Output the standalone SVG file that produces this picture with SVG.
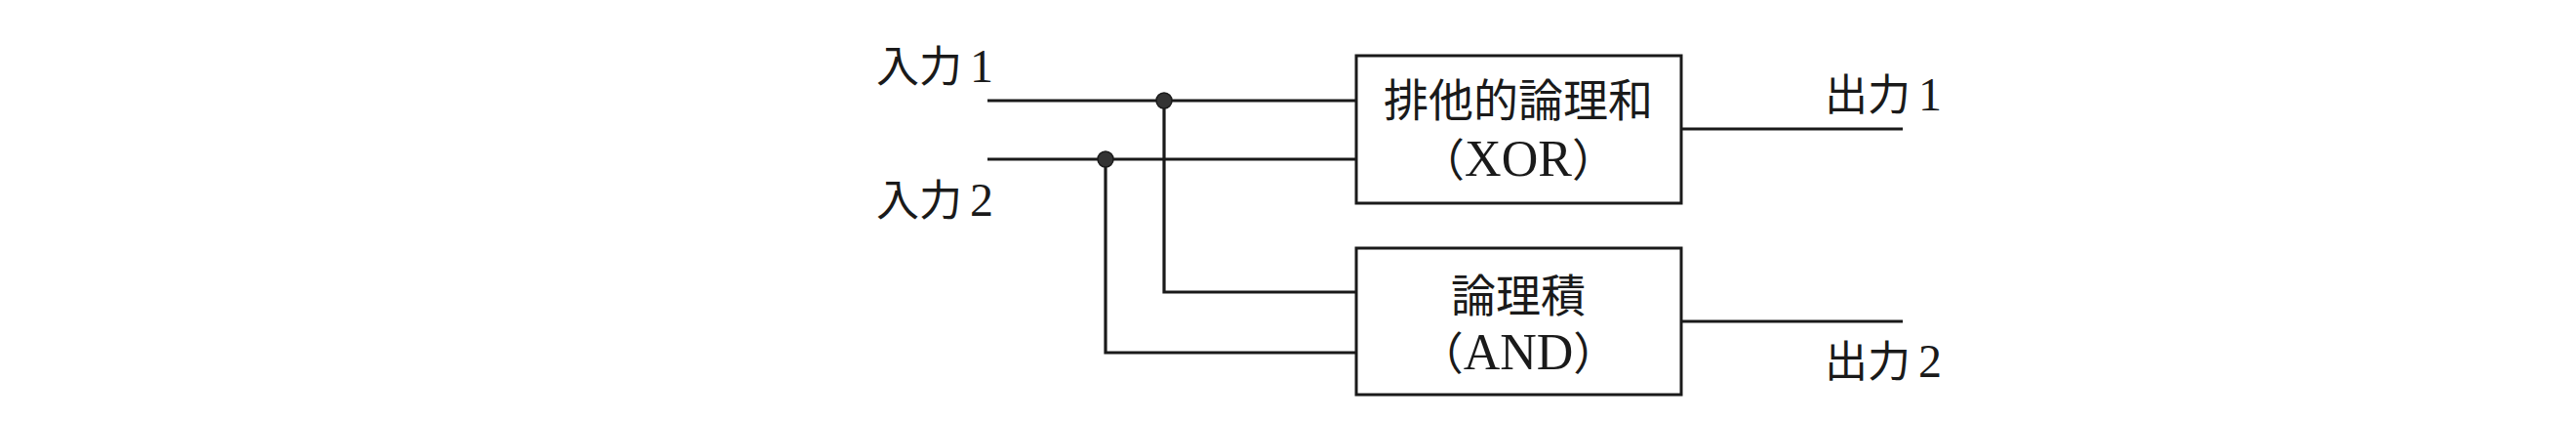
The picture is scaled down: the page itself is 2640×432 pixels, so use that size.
<svg xmlns="http://www.w3.org/2000/svg" width="2640" height="432" viewBox="0 0 2640 432">
<style>
.t{font-family:"Liberation Serif","Noto Sans CJK JP",serif;fill:#1a1a1a;}
.lbl{font-size:44px;}
.d{font-size:48px;}
.box{fill:#fff;stroke:#1a1a1a;stroke-width:3;}
.bt{font-size:46px;text-anchor:middle;}
.lt{font-size:52px;}
.w{fill:none;stroke:#1a1a1a;stroke-width:3.2;}
.dot{fill:#333;stroke:#1a1a1a;stroke-width:1.5;}
</style>
<rect width="2640" height="432" fill="#fff"/>
<g id="connectors">
<path class="w" d="M1012 103 H1390"/>
<path class="w" d="M1012 163 H1390"/>
<path class="w" d="M1193 103 V299 H1390"/>
<path class="w" d="M1133 163 V361 H1390"/>
<path class="w" d="M1723 132 H1950"/>
<path class="w" d="M1723 329 H1950"/>
<circle class="dot" cx="1193" cy="103" r="8"/>
<circle class="dot" cx="1133" cy="163" r="8"/>
</g>
<g id="input1"><text class="t lbl" x="898" y="84">入力<tspan class="d" dx="8">1</tspan></text></g>
<g id="input2"><text class="t lbl" x="898" y="221">入力<tspan class="d" dx="8">2</tspan></text></g>
<g id="xor">
<rect class="box" x="1390" y="57" width="333" height="151"/>
<text class="t bt" x="1556" y="119">排他的論理和</text>
<text class="t bt" x="1556" y="180">（<tspan class="lt">XOR</tspan>）</text>
</g>
<g id="and">
<rect class="box" x="1390" y="254" width="333" height="150"/>
<text class="t bt" x="1556" y="319">論理積</text>
<text class="t bt" x="1556" y="378">（<tspan class="lt">AND</tspan>）</text>
</g>
<g id="output1"><text class="t lbl" x="1870" y="113">出力<tspan class="d" dx="8">1</tspan></text></g>
<g id="output2"><text class="t lbl" x="1870" y="386">出力<tspan class="d" dx="8">2</tspan></text></g>
</svg>
